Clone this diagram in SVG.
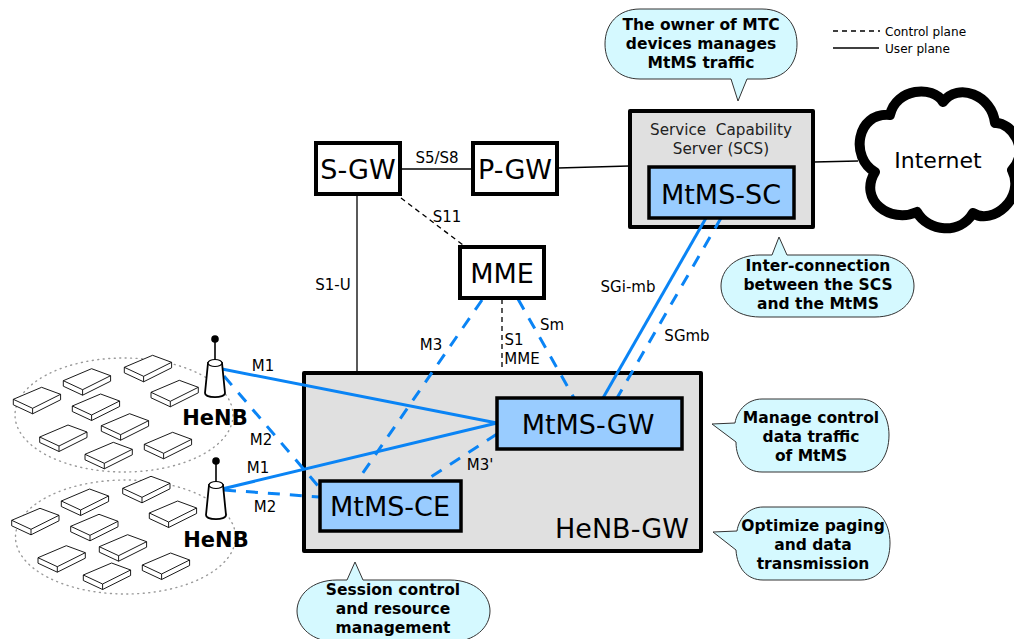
<svg xmlns="http://www.w3.org/2000/svg" xmlns:xlink="http://www.w3.org/1999/xlink" width="1014" height="639" viewBox="0 0 1014 639">
<style>
text{font-family:"DejaVu Sans",sans-serif;fill:#000;text-anchor:middle}
.big{font-size:27px}
.lab{font-size:15px}
.leg{font-size:12.100px;text-anchor:start}
.call{font-size:15.500px;font-weight:bold}
.box{fill:#fff;stroke:#000;stroke-width:4}
.grey{fill:#e0e0e0;stroke:#000;stroke-width:4;stroke-linejoin:round}
.blue{fill:#99ccff;stroke:#000;stroke-width:3.500}
.bub{fill:#d5f9ff;stroke:#333;stroke-width:1}
.k{stroke:#000;stroke-width:1.300;fill:none}
.kd{stroke:#000;stroke-width:1.300;fill:none;stroke-dasharray:5 4}
.b{stroke:#0a84f5;stroke-width:3;fill:none}
.bd{stroke:#0a84f5;stroke-width:3;fill:none;stroke-dasharray:12 10}
.cell{fill:none;stroke:#999;stroke-width:1.400;stroke-dasharray:1 4.500;stroke-linecap:round}
.dev{fill:#fff;stroke:#000;stroke-width:.9;stroke-linejoin:round}
</style>
<defs>
<g id="device"><path class="dev" d="M0,0L28.300,-12L47.300,-5L19.300,9ZM0,0V5.500L19.300,14.500V9M19.300,14.500L47.300,0.500V-5"/></g>
<g id="tower">
<path d="M0,-24V-2" stroke="#000" stroke-width="1.600" fill="none"/>
<circle cx="0" cy="-24" r="3.800" fill="#000"/>
<path d="M-7,0L-10,30C-10,35.500 10,35.500 10,30L7,0Z" fill="#fff" stroke="#000" stroke-width="1.800"/>
<ellipse cx="0" cy="0" rx="7" ry="3.500" fill="#fff" stroke="#000" stroke-width="1.200"/>
</g>
</defs>

<g id="cell-1">
<ellipse class="cell" cx="124" cy="415" rx="109" ry="57"/>
<use xlink:href="#device" href="#device" x="13.300" y="399.300"/>
<use xlink:href="#device" href="#device" x="63.300" y="380.700"/>
<use xlink:href="#device" href="#device" x="124.300" y="367.300"/>
<use xlink:href="#device" href="#device" x="151" y="392.300"/>
<use xlink:href="#device" href="#device" x="72.300" y="406"/>
<use xlink:href="#device" href="#device" x="101.300" y="425.700"/>
<use xlink:href="#device" href="#device" x="39.700" y="437"/>
<use xlink:href="#device" href="#device" x="144.300" y="444.300"/>
<use xlink:href="#device" href="#device" x="85" y="454.300"/>
</g>
<g id="cell-2">
<ellipse class="cell" cx="125.500" cy="537" rx="110" ry="57"/>
<use xlink:href="#device" href="#device" x="11.700" y="520.300"/>
<use xlink:href="#device" href="#device" x="61.300" y="501"/>
<use xlink:href="#device" href="#device" x="122.700" y="488.300"/>
<use xlink:href="#device" href="#device" x="149.300" y="513"/>
<use xlink:href="#device" href="#device" x="70.700" y="526.300"/>
<use xlink:href="#device" href="#device" x="99.300" y="546.700"/>
<use xlink:href="#device" href="#device" x="38" y="557.700"/>
<use xlink:href="#device" href="#device" x="142.300" y="565"/>
<use xlink:href="#device" href="#device" x="83.300" y="575"/>
</g>

<g id="connectors-back">
<path class="k" d="M357,195V372"/>
<path class="k" d="M401,169H472"/>
<path class="k" d="M558,168L629,166"/>
<path class="k" d="M814,162L858,161"/>
<path class="kd" d="M401,198L463,245"/>
<path class="kd" d="M502,299V372"/>
</g>

<g id="henb-gw"><rect class="grey" x="304" y="373" width="397" height="178"/>
<text x="622" y="538" style="font-size:27px">HeNB-GW</text></g>
<g id="scs"><rect class="grey" x="630" y="111" width="183" height="116"/>
<text x="721" y="135" xml:space="preserve" style="font-size:15.200px;fill:#222;white-space:pre">Service  Capability</text>
<text x="721" y="154" style="font-size:15.200px;fill:#222">Server (SCS)</text></g>

<g id="connectors">
<path class="b" d="M222,369L497,423"/>
<path class="b" d="M222,489L497,423"/>
<path class="bd" d="M224,376L319,487"/>
<path class="bd" d="M224,490L319,497"/>
<path class="bd" d="M482,300L358,480"/>
<path class="bd" d="M518,299L574,398"/>
<path class="bd" d="M497,434L426,480"/>
<path class="b" d="M706,218L603,398"/>
<path class="bd" d="M721,218L617,398"/>
</g>

<g id="s-gw"><rect class="box" x="316" y="143" width="84" height="51"/><text class="big" x="358" y="179">S-GW</text></g>
<g id="p-gw"><rect class="box" x="473" y="143" width="84" height="51"/><text class="big" x="515" y="179">P-GW</text></g>
<g id="mme"><rect class="box" x="460" y="247" width="84" height="51"/><text class="big" x="502" y="283">MME</text></g>
<g id="mtms-sc"><rect class="blue" x="649" y="167" width="145" height="51"/><text class="big" x="721" y="204">MtMS-SC</text></g>
<g id="mtms-gw"><rect class="blue" x="497" y="398" width="185" height="51"/><text class="big" x="588" y="434">MtMS-GW</text></g>
<g id="mtms-ce"><rect class="blue" x="320" y="481" width="141" height="50"/><text class="big" x="390" y="516">MtMS-CE</text></g>

<g id="internet"><path d="M890,115C896,88 933,85 943,102C958,82 992,95 995,123C1012,122 1030,150 1012,170C1026,198 992,226 973,213C960,235 928,232 917,212C890,224 858,200 875,172C850,158 856,112 890,115Z" fill="#fff" stroke="#000" stroke-width="10" stroke-linejoin="round"/>
<text x="938" y="168" style="font-size:22px">Internet</text></g>

<g id="henb-1"><use xlink:href="#tower" href="#tower" x="215" y="363"/><text x="215" y="425" style="font-size:21px;font-weight:bold">HeNB</text></g>
<g id="henb-2"><use xlink:href="#tower" href="#tower" x="216" y="485"/><text x="216" y="547" style="font-size:21px;font-weight:bold">HeNB</text></g>

<g id="labels">
<text class="lab" x="437" y="163">S5/S8</text>
<text class="lab" x="447" y="222">S11</text>
<text class="lab" x="333" y="290">S1-U</text>
<text class="lab" x="431" y="350">M3</text>
<text class="lab" x="514" y="345">S1</text>
<text class="lab" x="522" y="364">MME</text>
<text class="lab" x="552" y="330">Sm</text>
<text class="lab" x="628" y="292">SGi-mb</text>
<text class="lab" x="687" y="341">SGmb</text>
<text class="lab" x="263" y="371">M1</text>
<text class="lab" x="261" y="445">M2</text>
<text class="lab" x="258" y="473">M1</text>
<text class="lab" x="265" y="512">M2</text>
<text class="lab" x="480" y="470">M3'</text>
</g>

<g id="legend">
<path class="kd" d="M833,31H880"/>
<path class="k" d="M833,48H879"/>
<text class="leg" x="885" y="36">Control plane</text>
<text class="leg" x="885" y="53">User plane</text>
</g>

<g id="callout-owner"><path class="bub" d="M640,9H762C785,9 797,24 797,44C797,64 785,79 762,79H747L738,101L731,79H640C618,79 605,64 605,44C605,24 618,9 640,9Z"/>
<text class="call" x="701" y="30">The owner of MTC</text><text class="call" x="701" y="49">devices manages</text><text class="call" x="701" y="68">MtMS traffic</text></g>
<g id="callout-inter"><path class="bub" d="M760,255H772L779,237L787,255H875C900,255 914,270 914,286C914,302 900,317 875,317H760C735,317 721,302 721,286C721,270 735,255 760,255Z"/>
<text class="call" x="818" y="271">Inter-connection</text><text class="call" x="818" y="290">between the SCS</text><text class="call" x="818" y="309">and the MtMS</text></g>
<g id="callout-manage"><path class="bub" d="M762,399H860C878,399 889,415 889,435C889,456 878,472 860,472H762C746,472 736,460 736,442L712,424L735,423C737,410 748,399 762,399Z"/>
<text class="call" x="811" y="423">Manage control</text><text class="call" x="811" y="442">data traffic</text><text class="call" x="811" y="461">of MtMS</text></g>
<g id="callout-optimize"><path class="bub" d="M763,507H861C879,507 890,523 890,543C890,564 879,580 861,580H763C747,580 737,568 736,550L713,532L737,531C739,518 749,507 763,507Z"/>
<text class="call" x="813" y="531">Optimize paging</text><text class="call" x="813" y="550">and data</text><text class="call" x="813" y="569">transmission</text></g>
<g id="callout-session"><path class="bub" d="M347,580L355,562L363,580H450C475,580 490,595 490,611C490,627 475,642 450,642H337C312,642 297,627 297,611C297,595 312,580 337,580Z"/>
<text class="call" x="393" y="595">Session control</text><text class="call" x="393" y="614">and resource</text><text class="call" x="393" y="633">management</text></g>
</svg>
